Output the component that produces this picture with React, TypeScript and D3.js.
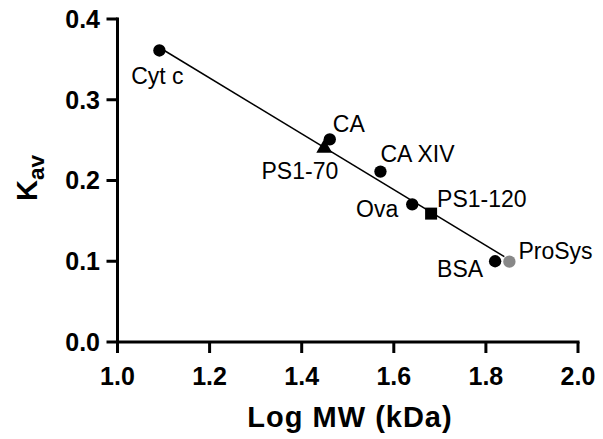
import React from "react";
import * as d3 from "d3";

const names = ["Cyt c", "CA", "PS1-70", "CA XIV", "Ova", "PS1-120", "BSA", "ProSys"];
const logMW = [1.091, 1.461, 1.449, 1.571, 1.640, 1.681, 1.820, 1.851];
const kav = [0.361, 0.251, 0.240, 0.211, 0.1705, 0.159, 0.100, 0.0995];
const shapes = ["circle", "circle", "triangle", "circle", "circle", "square", "circle", "circle"];
const colors = ["#000", "#000", "#000", "#000", "#000", "#000", "#000", "#888"];
const fitX = [1.09, 1.84];
const fitY = [0.365, 0.1057];
const xTicks = [1.0, 1.2, 1.4, 1.6, 1.8, 2.0];
const yTicks = [0.0, 0.1, 0.2, 0.3, 0.4];

// label placement (dx, dy baseline offset, anchor)
const labelPos: [number, number, string][] = [
  [-2, 34, "middle"],
  [3, -7, "start"],
  [14, 31, "end"],
  [0, -10, "start"],
  [-14, 13, "end"],
  [6, -7, "start"],
  [-12, 16, "end"],
  [9, -3, "start"],
];

export default function App() {
  const W = 603, H = 439;
  const x = d3.scaleLinear().domain([1, 2]).range([117.5, 578]);
  const y = d3.scaleLinear().domain([0, 0.4]).range([342, 19]);
  const font = "'Liberation Sans', Arial, Helvetica, sans-serif";
  const line = d3.line<number>().x((d) => x(fitX[d])).y((d) => y(fitY[d]));
  const sym = (s: string) => {
    if (s === "triangle") return d3.symbol(d3.symbolTriangle, 110)();
    if (s === "square") return d3.symbol(d3.symbolSquare, 144)();
    return d3.symbol(d3.symbolCircle, 120)();
  };
  return (
    <svg width={W} height={H} style={{ position: "absolute", left: 0, top: 0, background: "#fff" }} fontFamily={font}>
      <rect width={W} height={H} fill="#fff" />
      {/* fit line */}
      <path d={line([0, 1]) || ""} stroke="#000" strokeWidth={1.5} fill="none" />
      {/* axes */}
      <line x1={x(1)} x2={x(2) + 1.5} y1={y(0)} y2={y(0)} stroke="#000" strokeWidth={3} />
      <line x1={x(1)} x2={x(1)} y1={y(0) + 1.5} y2={y(0.4) - 1.5} stroke="#000" strokeWidth={3} />
      {xTicks.map((t) => (
        <g key={"x" + t}>
          <line x1={x(t)} x2={x(t)} y1={y(0)} y2={y(0) + 11} stroke="#000" strokeWidth={3} />
          <text x={x(t)} y={385} textAnchor="middle" fontSize={25} fontWeight="bold">
            {t.toFixed(1)}
          </text>
        </g>
      ))}
      {yTicks.map((t) => (
        <g key={"y" + t}>
          <line x1={x(1) - 11} x2={x(1)} y1={y(t)} y2={y(t)} stroke="#000" strokeWidth={3} />
          <text x={100} y={y(t)} dy="0.35em" textAnchor="end" fontSize={25} fontWeight="bold">
            {t.toFixed(1)}
          </text>
        </g>
      ))}
      <text x={350} y={427} textAnchor="middle" fontSize={29} letterSpacing={1} fontWeight="bold">
        Log MW (kDa)
      </text>
      <text transform={`translate(36.5, 178) rotate(-90)`} textAnchor="middle" fontWeight="bold">
        <tspan fontSize={29}>K</tspan>
        <tspan fontSize={22.5} dy={7}>av</tspan>
      </text>
      {/* points */}
      {names.map((n, i) => (
        <g key={n}>
          <path d={sym(shapes[i]) || ""} transform={`translate(${x(logMW[i])}, ${y(kav[i])})`} fill={colors[i]} />
          <text
            x={x(logMW[i]) + labelPos[i][0]}
            y={y(kav[i]) + labelPos[i][1]}
            textAnchor={labelPos[i][2] as any}
            fontSize={23}
          >
            {n}
          </text>
        </g>
      ))}
    </svg>
  );
}
